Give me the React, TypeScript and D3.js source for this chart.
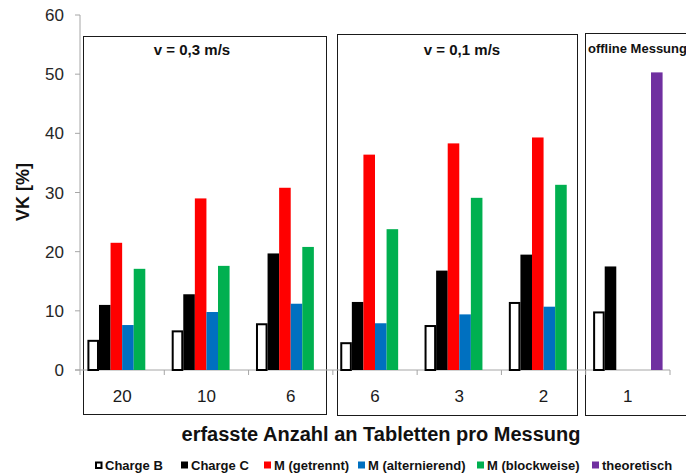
import { scaleBand, scaleLinear, range } from "d3";

// categories: tablets per measurement
const categoryLabels = ["20", "10", "6", "6", "3", "2", "1"];

const seriesKeys = ["chargeB", "chargeC", "getrennt", "alternierend", "blockweise", "theoretisch"];
const seriesNames = ["Charge B", "Charge C", "M (getrennt)", "M (alternierend)", "M (blockweise)", "theoretisch"];
const seriesColors = ["#ffffff", "#000000", "#ff0000", "#0070c0", "#00b050", "#7030a0"];

const chargeB = [5.1, 6.7, 7.9, 4.7, 7.6, 11.5, 9.9];
const chargeC = [11.0, 12.8, 19.7, 11.5, 16.8, 19.5, 17.5];
const getrennt = [21.5, 29.0, 30.8, 36.4, 38.3, 39.3, null];
const alternierend = [7.6, 9.8, 11.2, 7.9, 9.4, 10.7, null];
const blockweise = [17.1, 17.6, 20.8, 23.8, 29.1, 31.3, null];
const theoretisch = [null, null, null, null, null, null, 50.3];

const seriesValues = [chargeB, chargeC, getrennt, alternierend, blockweise, theoretisch];

const yTicks = [0, 10, 20, 30, 40, 50, 60];

const panelTitles = ["v = 0,3 m/s", "v = 0,1 m/s", "offline Messung"];

// layout
const W = 686;
const H = 476;
const plotLeft = 80;
const plotRight = 670;
const plotTop = 15;
const plotBottom = 370;
const font = "'Liberation Sans', Arial, sans-serif";
const axisGray = "#a6a6a6";

// panel boxes (annotation frames)
const panelBoxes = [
  { x1: 83.5, x2: 326.5, y1: 36.5, y2: 414.5 },
  { x1: 337.5, x2: 577.5, y1: 34.5, y2: 415.5 },
  { x1: 585.5, x2: 700, y1: 33.5, y2: 415.5 },
];
const panelTitleX = [192, 462];

const legendX = [95, 181, 264, 358, 477, 592];

export default function App() {
  const x0 = scaleBand<number>()
    .domain(range(categoryLabels.length))
    .range([plotLeft, plotRight])
    .padding(0);

  const x1 = scaleBand<string>()
    .domain(seriesKeys)
    .range([0, x0.bandwidth()])
    .paddingInner(0)
    .paddingOuter(0.64);

  const y = scaleLinear().domain([0, 60]).range([plotBottom, plotTop]);

  return (
    <svg
      width={W}
      height={H}
      style={{ position: "absolute", left: 0, top: 0, background: "#fff" }}
      fontFamily={font}
    >
      <rect width={W} height={H} fill="#fff" />

      {/* panel frames */}
      {panelBoxes.map((b, i) => (
        <rect
          key={`box-${i}`}
          x={b.x1}
          y={b.y1}
          width={b.x2 - b.x1}
          height={b.y2 - b.y1}
          fill="none"
          stroke="#1a1a1a"
          strokeWidth={1}
        />
      ))}

      {/* panel titles */}
      <text x={panelTitleX[0]} y={55} textAnchor="middle" fontSize={15} fontWeight="bold" fill="#111">
        {panelTitles[0]}
      </text>
      <text x={panelTitleX[1]} y={55} textAnchor="middle" fontSize={15} fontWeight="bold" fill="#111">
        {panelTitles[1]}
      </text>
      <text x={588} y={53} fontSize={13} fontWeight="bold" fill="#111">
        {panelTitles[2]}
      </text>

      {/* y axis */}
      <line x1={plotLeft} x2={plotLeft} y1={y(60)} y2={plotBottom} stroke={axisGray} />
      {yTicks.map((t) => (
        <g key={`yt-${t}`}>
          <line x1={plotLeft - 5} x2={plotLeft} y1={y(t)} y2={y(t)} stroke={axisGray} />
          <text
            x={64}
            y={y(t)}
            dy="0.36em"
            textAnchor="end"
            fontSize={17}
            fill="#262626"
          >
            {t}
          </text>
        </g>
      ))}
      <text
        transform={`translate(29,192) rotate(-90)`}
        textAnchor="middle"
        fontSize={18}
        fontWeight="bold"
        fill="#111"
      >
        VK [%]
      </text>

      {/* x axis */}
      <line x1={plotLeft - 5} x2={plotRight} y1={plotBottom} y2={plotBottom} stroke={axisGray} />
      {range(categoryLabels.length + 1).map((i) => {
        const xx = i < categoryLabels.length ? x0(i)! : plotRight;
        return (
          <line key={`xt-${i}`} x1={xx} x2={xx} y1={plotBottom} y2={plotBottom + 5} stroke={axisGray} />
        );
      })}
      {categoryLabels.map((c, i) => (
        <text
          key={`xl-${i}`}
          x={x0(i)! + x0.bandwidth() / 2}
          y={402}
          textAnchor="middle"
          fontSize={17}
          fill="#1a1a1a"
        >
          {c}
        </text>
      ))}

      {/* bars */}
      {seriesKeys.map((k, si) =>
        seriesValues[si].map((v, ci) => {
          if (v == null) return null;
          const bx = x0(ci)! + x1(k)!;
          const bw = x1.bandwidth();
          const by = y(v);
          const bh = plotBottom - by;
          if (k === "chargeB") {
            return (
              <rect
                key={`${k}-${ci}`}
                x={bx + 1}
                y={by + 1}
                width={bw - 2}
                height={bh - 1}
                fill="#fff"
                stroke="#000"
                strokeWidth={2}
              />
            );
          }
          return (
            <rect key={`${k}-${ci}`} x={bx} y={by} width={bw} height={bh} fill={seriesColors[si]} />
          );
        })
      )}

      {/* x title */}
      <text x={381} y={441} textAnchor="middle" fontSize={20} fontWeight="bold" fill="#111">
        erfasste Anzahl an Tabletten pro Messung
      </text>

      {/* legend */}
      {seriesNames.map((n, i) => (
        <g key={`lg-${i}`} transform={`translate(${legendX[i]},465)`}>
          {i === 0 ? (
            <rect x={1} y={-2.5} width={5.5} height={5.5} fill="#fff" stroke="#000" strokeWidth={2} />
          ) : (
            <rect x={0} y={-3.5} width={7} height={7} fill={seriesColors[i]} />
          )}
          <text x={10} y={5} fontSize={13} fontWeight="bold" fill="#111">
            {n}
          </text>
        </g>
      ))}
    </svg>
  );
}
